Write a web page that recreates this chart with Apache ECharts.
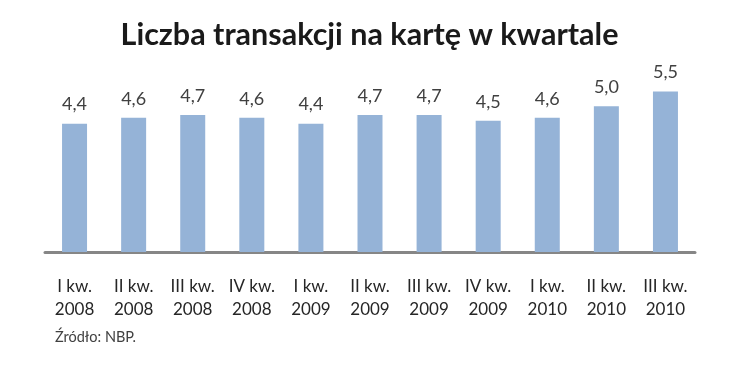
<!DOCTYPE html>
<html><head><meta charset="utf-8">
<script src="https://cdn.jsdelivr.net/npm/echarts@6/dist/echarts.min.js"></script>
<style>html,body{margin:0;padding:0;background:#fff;}#c{width:739px;height:380px;}</style>
</head><body><div id="c"></div>
<script>
var quarters = ['I kw.', 'II kw.', 'III kw.', 'IV kw.', 'I kw.', 'II kw.', 'III kw.', 'IV kw.', 'I kw.', 'II kw.', 'III kw.'];
var years = ['2008', '2008', '2008', '2008', '2009', '2009', '2009', '2009', '2010', '2010', '2010'];
var values = [4.4, 4.6, 4.7, 4.6, 4.4, 4.7, 4.7, 4.5, 4.6, 5.0, 5.5];
var titleText = 'Liczba transakcji na kartę w kwartale';
var sourceText = 'Źródło: NBP.';

var categories = quarters.map(function (q, i) { return q + '\n' + years[i]; });
var font = 'Lato, "Open Sans", sans-serif';
var chart = echarts.init(document.getElementById('c'));
chart.setOption({
  animation: false,
  backgroundColor: '#fff',
  title: {
    text: titleText, left: 'center', top: 15,
    textStyle: { fontFamily: font, fontSize: 30.5, fontWeight: 'bold', color: '#1a1a1a' }
  },
  graphic: [{
    type: 'text', left: 55, top: 330,
    style: { text: sourceText, fontFamily: font, fontSize: 14.5, fill: '#404040' }
  }],
  grid: { left: 45, right: 44, top: 77, bottom: 128 },
  xAxis: {
    type: 'category', data: categories,
    axisLine: { lineStyle: { color: '#868686', width: 3 } },
    axisTick: { show: false },
    axisLabel: { interval: 0, margin: 23, lineHeight: 23, fontFamily: font, fontSize: 17, color: '#262626' }
  },
  yAxis: { type: 'value', min: 0, max: 6, show: false, splitLine: { show: false } },
  series: [{
    type: 'bar', data: values, barWidth: 25,
    itemStyle: { color: '#95B3D7' },
    label: {
      show: true, position: 'top', distance: 10, fontFamily: font, fontSize: 18, color: '#404040',
      formatter: function (p) { return p.value.toFixed(1).replace('.', ','); }
    }
  }]
});
</script></body></html>
